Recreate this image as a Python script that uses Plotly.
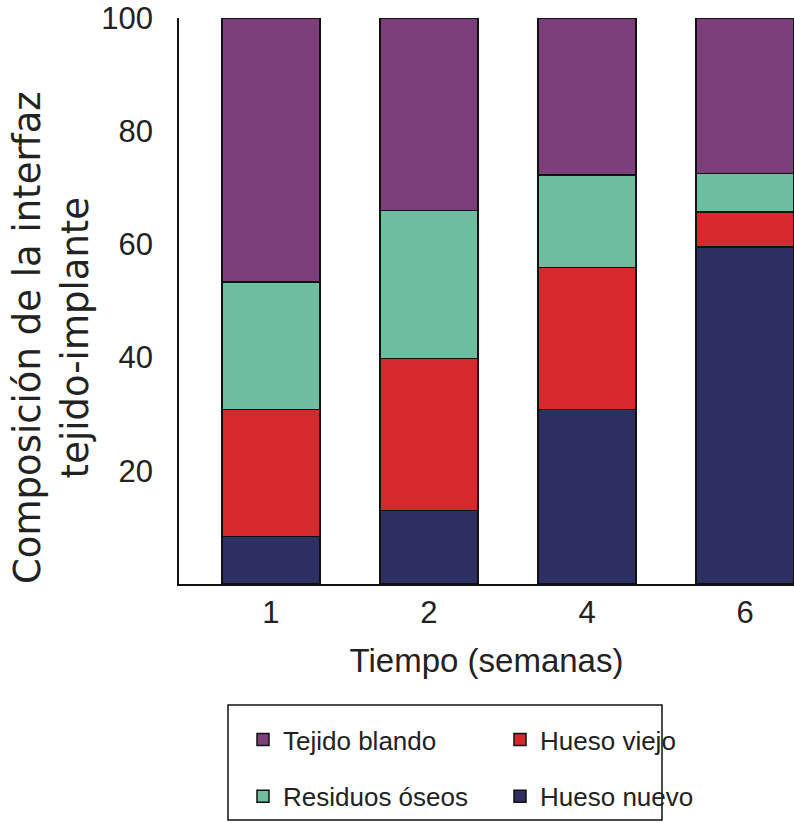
import plotly.graph_objects as go

weeks = ["1", "2", "4", "6"]
hueso_nuevo = [8.4, 13.0, 30.8, 59.5]
hueso_viejo = [22.4, 26.8, 25.1, 6.2]
residuos_oseos = [22.6, 26.2, 16.4, 6.8]
tejido_blando = [46.6, 34.0, 27.7, 27.5]

y_ticks = [20, 40, 60, 80, 100]

colors = {
    "Tejido blando": "#7C3F7B",
    "Residuos óseos": "#6DBE9F",
    "Hueso viejo": "#D7292D",
    "Hueso nuevo": "#2C2F5F",
}

FONT = "Liberation Sans, Arial, Helvetica, sans-serif"

# stacking order (bottom -> top), with legend placement
series = [
    ("Hueso nuevo", hueso_nuevo, "legend2", 2),
    ("Hueso viejo", hueso_viejo, "legend2", 1),
    ("Residuos óseos", residuos_oseos, "legend", 2),
    ("Tejido blando", tejido_blando, "legend", 1),
]

fig = go.Figure()
for name, vals, leg, rank in series:
    fig.add_trace(go.Bar(
        x=weeks, y=vals, name=name,
        marker=dict(color=colors[name], line=dict(color="#111111", width=1.5)),
        width=0.62,
        legend=leg, legendgroup=name, legendrank=rank,
    ))

W, H = 794, 823
L, R, T, B = 179, 0, 18, 239
pw, ph = W - L - R, H - T - B

def px(xp):
    return (xp - L) / pw

def py(yp):
    return (H - B - yp) / ph

fig.update_layout(
    template="none",
    width=W, height=H,
    barmode="stack",
    bargap=0.38,
    paper_bgcolor="white", plot_bgcolor="white",
    margin=dict(l=L, r=R, t=T, b=B, autoexpand=False),
    font=dict(family=FONT, color="#222222"),
    xaxis=dict(
        type="category", range=[-0.582, 3.31],
        showline=True, linecolor="#111111", linewidth=1.5,
        showgrid=False, zeroline=False, ticks="",
        tickfont=dict(size=31, family=FONT, color="#222222"),
        ticklabelstandoff=0,
        title=dict(text="Tiempo (semanas)", font=dict(size=33, family=FONT, color="#222222"), standoff=20),
        automargin=False,
    ),
    yaxis=dict(
        range=[0, 100],
        tickvals=y_ticks, ticktext=[str(v) for v in y_ticks],
        showline=True, linecolor="#111111", linewidth=1.5,
        showgrid=False, zeroline=False, ticks="",
        tickfont=dict(size=31, family=FONT, color="#222222"),
        ticklabelstandoff=18,
        automargin=False,
    ),
    legend=dict(
        x=px(243), y=py(716), xanchor="left", yanchor="top",
        orientation="v", traceorder="grouped", tracegroupgap=20,
        font=dict(size=26, family=FONT, color="#222222"),
        bgcolor="rgba(0,0,0,0)", borderwidth=0,
    ),
    legend2=dict(
        x=px(500), y=py(716), xanchor="left", yanchor="top",
        orientation="v", traceorder="grouped", tracegroupgap=20,
        font=dict(size=26, family=FONT, color="#222222"),
        bgcolor="rgba(0,0,0,0)", borderwidth=0,
    ),
    showlegend=True,
)

# y-axis title
fig.add_annotation(
    text="Composición de la interfaz<br>tejido-implante",
    xref="paper", yref="paper", x=px(51), y=py(338),
    xanchor="center", yanchor="middle", textangle=-90, showarrow=False,
    font=dict(size=37, family="DejaVu Sans, Liberation Sans, sans-serif", color="#222222"),
)

# legend frame
fig.add_shape(
    type="rect", xref="paper", yref="paper",
    x0=px(228), x1=px(662), y0=py(705), y1=py(820),
    line=dict(color="#111111", width=1.5), fillcolor="rgba(0,0,0,0)",
)

fig.write_html(
    "out.html",
    config={"displayModeBar": False},
    post_script="document.body.style.margin='0';",
)
